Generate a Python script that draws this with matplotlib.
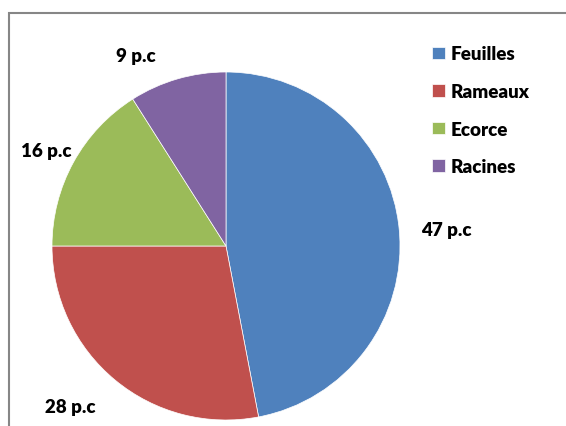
import matplotlib
matplotlib.use('Agg')
import matplotlib.pyplot as plt
from matplotlib.patches import Rectangle

# Anteile der Pflanzenteile
teile = ['Feuilles', 'Rameaux', 'Ecorce', 'Racines']
werte = [47, 28, 16, 9]
etiketten = ['47 p.c', '28 p.c', '16 p.c', '9 p.c']
farben = ['#4F81BD', '#C0504D', '#9BBB59', '#8064A2']

plt.rcParams['font.family'] = ['Lato', 'DejaVu Sans']

fig = plt.figure(figsize=(5.66, 4.27), dpi=100)
ax = fig.add_axes([52 / 566, 6 / 427, 348 / 566, 348 / 427])

keile, _ = ax.pie(werte, colors=farben, startangle=90, counterclock=False,
                  wedgeprops=dict(edgecolor='white', linewidth=0.5))
ax.set_xlim(-1, 1)
ax.set_ylim(-1, 1)
ax.set_aspect('equal')
ax.axis('off')

# Beschriftungen wie im Original (Excel "beste Anpassung")
pos = [(1.264, 0.092), (-0.897, -0.925), (-1.034, 0.546), (-0.517, 1.092)]
for (x, y), t in zip(pos, etiketten):
    ax.text(x, y, t, ha='center', va='center', fontsize=13.5, fontweight='heavy',
            clip_on=False)

fig.legend(keile, teile, loc='upper left', bbox_to_anchor=(423 / 566, 1 - 37 / 427),
           frameon=False, prop=dict(size=13.5, weight='heavy'),
           handlelength=0.65, handleheight=0.65, handletextpad=0.35,
           labelspacing=1.1, borderpad=0)

# Rahmen
fig.add_artist(Rectangle((9 / 566, -0.2), 1.2, 1.2 - 14 / 427,
                         transform=fig.transFigure, fill=False,
                         edgecolor='#868686', linewidth=1.5))

fig.savefig('out.png', dpi=100)
